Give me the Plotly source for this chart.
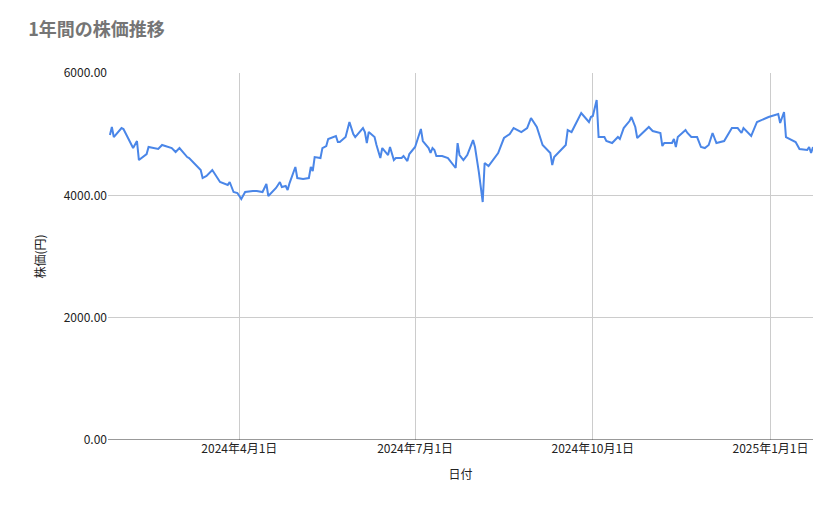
import pandas as pd
import plotly.graph_objects as go

START = "2024-01-24"

# days since START
day_offsets = [
    1, 2, 3, 7, 8, 10, 13, 15, 16, 20, 21, 26, 28, 33, 35, 37, 41, 42, 48, 49,
    51, 54, 58, 62, 63, 65, 67, 69, 71, 75, 77, 80, 82, 83, 87, 89, 90, 92, 93, 94,
    97, 98, 101, 104, 105, 106, 107, 110, 111, 113, 114, 118, 119,
    120, 123, 125, 127, 128, 132, 133, 134, 135, 138, 139, 141, 142, 145, 146, 148, 149,
    152, 153, 155, 156, 159, 162, 163, 166, 167, 168, 169, 170, 173, 176, 180, 181, 182,
    184, 186, 189, 190, 192, 194, 195, 197, 202, 205, 208, 210, 214, 217, 219, 222, 225,
    229, 230, 231, 237, 238, 240,
    244, 245, 249, 250, 251, 253, 254, 257, 258, 261, 264, 265, 267, 270, 271, 273, 274,
    280, 282, 286, 287, 288, 292, 293, 294, 295, 299, 300, 302, 305, 307, 309, 311, 313,
    315, 319, 323, 326, 328, 329, 333, 336, 342, 347, 348, 350, 351, 356, 358, 362, 363,
    364, 365,
]

prices = [
    4986, 5117, 4953, 5100, 5084, 4953, 4773, 4888, 4577, 4675, 4790, 4757, 4823, 4773, 4708, 4773, 4626, 4610, 4414, 4283,
    4316, 4414, 4218, 4169, 4218, 4054, 4038, 3940, 4054, 4071, 4071, 4054, 4185, 3989, 4120, 4218, 4136, 4152, 4087, 4201,
    4463, 4283, 4267, 4283, 4463, 4398, 4626, 4610, 4773, 4806, 4921, 4970, 4872,
    4872, 4953, 5199, 5002, 4953, 5100, 5035, 4855, 5035, 4953, 4823, 4610, 4773, 4659, 4790, 4577, 4610,
    4610, 4643, 4561, 4675, 4790, 5084, 4888, 4773, 4692, 4773, 4741, 4643, 4643, 4610, 4447, 4855, 4659,
    4577, 4659, 4904, 4790, 4381, 3891, 4528, 4479, 4692, 4937, 5002, 5100, 5035, 5100, 5264, 5117, 4823,
    4692, 4496, 4626, 4823, 5068, 5035,
    5264, 5346, 5199, 5280, 5297, 5558, 4953, 4953, 4888, 4855, 4953, 4921, 5100, 5215, 5280, 5117, 4937,
    5117, 5051, 5019, 4806, 4855, 4855, 4921, 4790, 4953, 5068, 5019, 4953, 4953, 4790, 4773, 4823, 5019,
    4855, 4888, 5100, 5100, 5019, 5100, 4970, 5199, 5280, 5329, 5182, 5362, 4953, 4872, 4757, 4741, 4790,
    4692, 4790,
]

tick_dates = ["2024-04-01", "2024-07-01", "2024-10-01", "2025-01-01"]
tick_text = ["2024年4月1日", "2024年7月1日", "2024年10月1日", "2025年1月1日"]
y_ticks = [0, 2000, 4000, 6000]

dates = pd.Timestamp(START) + pd.to_timedelta(day_offsets, unit="D")

fig = go.Figure()
fig.add_trace(go.Scatter(
    x=dates, y=prices,
    mode="lines",
    line=dict(color="#4a86e8", width=2),
    showlegend=False,
))

fig.update_layout(
    width=839, height=519,
    margin=dict(l=100, r=34, t=65, b=87),
    paper_bgcolor="white", plot_bgcolor="white",
    font=dict(family="Noto Sans CJK JP, Roboto, sans-serif", size=12, color="#222"),
    title=dict(text="<b>1年間の株価推移</b>", x=0.024, xanchor="left", y=0.97, yanchor="top",
               font=dict(size=18, color="#757575")),
)
fig.update_xaxes(
    range=["2024-01-24", "2025-01-23"],
    tickvals=tick_dates, ticktext=tick_text,
    showgrid=True, gridcolor="#cccccc", showline=False, ticks="",
    title=dict(text="日付", font=dict(size=12)),
)
fig.update_yaxes(
    range=[0, 6000], tickvals=y_ticks, tickformat=".2f",
    showgrid=True, gridcolor="#cccccc", zeroline=False,
    showline=False, ticks="",
    title=dict(text="株価(円)", font=dict(size=12)),
)
fig.add_shape(type="line", xref="paper", yref="y", x0=0, x1=1, y0=0, y1=0,
              line=dict(color="#333333", width=1))

fig.write_html("out.html")
